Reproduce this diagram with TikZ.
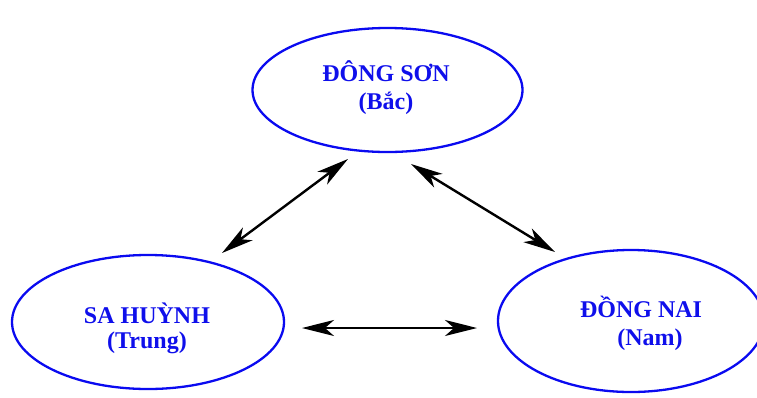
\documentclass[tikz,border=0pt]{standalone}
\usepackage{fontspec}
\setmainfont{Liberation Serif}
\usetikzlibrary{shapes.geometric,arrows.meta}
\definecolor{ringblue}{RGB}{10,10,240}
\definecolor{labelblue}{RGB}{15,15,235}
\tikzset{
  region/.style={draw=ringblue, line width=2.3pt, ellipse, inner sep=0pt},
  rlabel/.style={text=labelblue, font=\fontsize{24}{27}\selectfont\bfseries, align=center, inner sep=0pt},
  link/.style={line width=2.4pt, {Stealth[length=32pt,width=16pt,inset=9pt]}-{Stealth[length=32pt,width=16pt,inset=9pt]}}
}
\begin{document}
\begin{tikzpicture}[x=1pt,y=-1pt]
\useasboundingbox (0,0) rectangle (757,397);
\node[region, minimum width=270pt, minimum height=124pt] (dongson) at (387.5,90) {};
\node[region, minimum width=272pt, minimum height=134pt] (sahuynh) at (148,322) {};
\node[region, minimum width=266pt, minimum height=142pt] (dongnai) at (631,321) {};
\node[rlabel] (tds) at (386,88) {ĐÔNG SƠN\\[1pt](Bắc)};
\node[rlabel] (tsh) at (147,328) {SA HUỲNH\\[-2pt](Trung)};
\node[rlabel] (tdn) at (641,323) {ĐỒNG NAI\\[1pt]\hspace*{18pt}(Nam)};
\coordinate (a1) at (222,253);
\coordinate (a2) at (348,159);
\coordinate (b1) at (411,164);
\coordinate (b2) at (555,252);
\coordinate (c1) at (302,328);
\coordinate (c2) at (477,328);
\draw[link] (a1) -- (a2);
\draw[link] (b1) -- (b2);
\draw[link] (c1) -- (c2);
\end{tikzpicture}
\end{document}
